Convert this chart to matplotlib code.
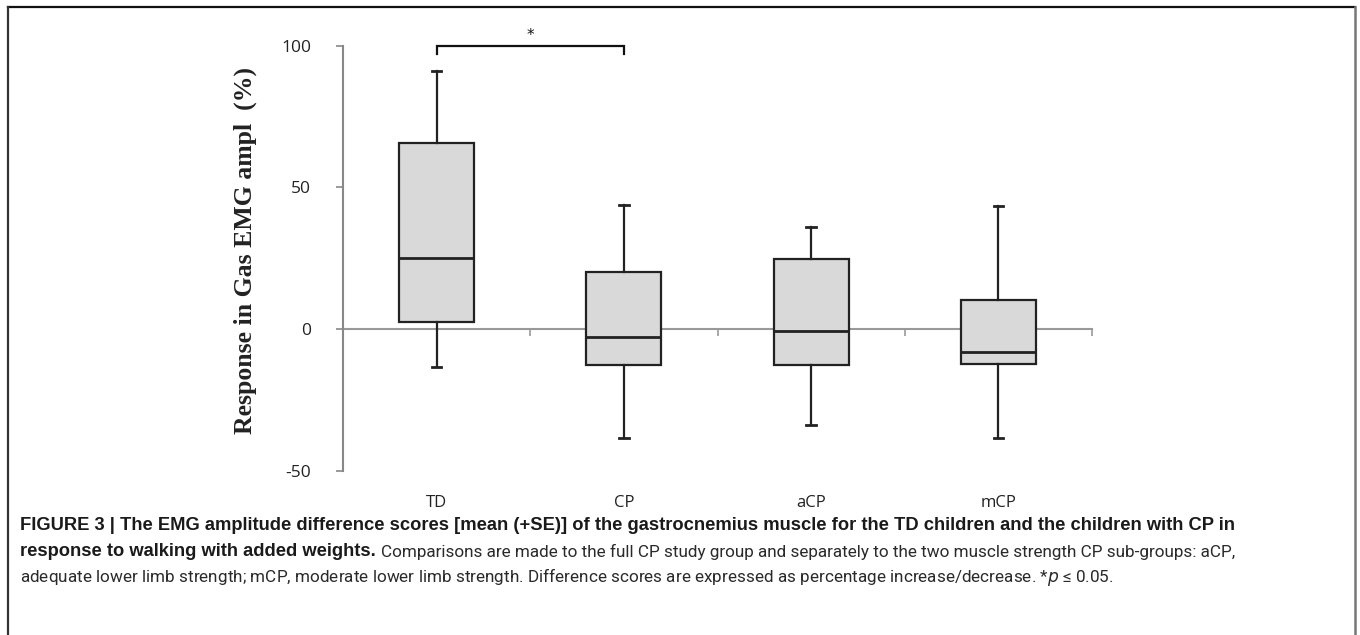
import matplotlib
matplotlib.use("Agg")
import matplotlib.pyplot as plt
from matplotlib.lines import Line2D
import matplotlib.transforms as mtransforms

# ---- data ----
groups = ["TD", "CP", "aCP", "mCP"]
whisker_low = [-13.4, -38.5, -33.9, -38.4]
box_low = [2.4, -12.8, -12.8, -12.3]
medians = [25.2, -3.0, -0.6, -8.2]
box_high = [65.5, 20.2, 24.8, 10.3]
whisker_high = [91.0, 43.6, 35.8, 43.5]
yticks = [-50, 0, 50, 100]
sig_pair = (0, 1)
sig_label = "*"

W, H = 1360, 635
fig = plt.figure(figsize=(W / 100, H / 100), dpi=100)
fig.patch.set_facecolor("white")

ax = fig.add_axes([343 / W, 1 - 470.7 / H, 749 / W, 425.2 / H])
positions = list(range(1, len(groups) + 1))
stats = []
for i, g in enumerate(groups):
    stats.append(dict(label=g, whislo=whisker_low[i], q1=box_low[i], med=medians[i],
                      q3=box_high[i], whishi=whisker_high[i], fliers=[]))
ax.bxp(stats, positions=positions, widths=0.4, patch_artist=True, showfliers=False,
       capwidths=0.05,
       boxprops=dict(facecolor="#d9d9d9", edgecolor="#222222", linewidth=1.6),
       medianprops=dict(color="#222222", linewidth=2.0),
       whiskerprops=dict(color="#222222", linewidth=1.6),
       capprops=dict(color="#222222", linewidth=2.0), zorder=3)

ax.set_xlim(0.5, len(groups) + 0.5)
ax.set_ylim(-50, 100)
ax.set_yticks(yticks)
ax.set_yticklabels([str(v) for v in yticks], fontfamily="Open Sans", fontsize=12.5, color="#222222")
ax.tick_params(axis="y", direction="out", length=5, width=1.2, color="#888888", pad=18)
for s in ["top", "right"]:
    ax.spines[s].set_visible(False)
ax.spines["left"].set_color("#888888")
ax.spines["left"].set_linewidth(1.5)
ax.spines["bottom"].set_position(("data", 0))
ax.spines["bottom"].set_color("#999999")
ax.spines["bottom"].set_linewidth(1.5)
ax.spines["bottom"].set_zorder(2)
ax.set_xticks([p + 0.5 for p in positions])
ax.set_xticklabels([])
ax.tick_params(axis="x", direction="out", length=5, width=1.2, color="#999999")
ax.set_facecolor("none")

# category labels at the bottom
trans = mtransforms.blended_transform_factory(ax.transData, fig.transFigure)
for p, g in zip(positions, groups):
    ax.text(p, 1 - 503 / H, g, transform=trans, ha="center", va="center",
            fontfamily="Open Sans", fontsize=12, color="#222222")

# significance bracket
x1, x2 = positions[sig_pair[0]], positions[sig_pair[1]]
ax.plot([x1, x1, x2, x2], [97, 100, 100, 97], color="#111111", lw=1.6, clip_on=False,
        solid_joinstyle="miter")
ax.text((x1 + x2) / 2, 101, sig_label, ha="center", va="bottom", fontsize=11,
        fontfamily="DejaVu Sans", color="#111111")

# y label
fig.text(245 / W, 1 - 250 / H, "Response in Gas EMG ampl  (%)", rotation=90,
         ha="center", va="center", fontfamily="Liberation Serif", fontweight="bold",
         fontsize=18.5, color="#222222")

# frame
fig.add_artist(Line2D([8 / W, 1355 / W], [1 - 7 / H, 1 - 7 / H], color="#111111", lw=1.6))
fig.add_artist(Line2D([8 / W, 8 / W], [1 - 7 / H, 0], color="#333333", lw=1.6))
fig.add_artist(Line2D([1355 / W, 1355 / W], [1 - 7 / H, 0], color="#777777", lw=1.8))

# caption
bold_font = ["Liberation Sans", "DejaVu Sans"]
reg_font = ["Roboto", "Liberation Sans", "DejaVu Sans"]
x0 = 20 / W
fig.text(x0, 1 - 526 / H,
         "FIGURE 3 | The EMG amplitude difference scores [mean (+SE)] of the gastrocnemius muscle for the TD children and the children with CP in",
         ha="left", va="center", fontfamily=bold_font, fontweight="bold", fontsize=13.2, color="#1a1a1a")
t_bold = fig.text(x0, 1 - 552 / H, "response to walking with added weights.",
                  ha="left", va="center", fontfamily=bold_font, fontweight="bold", fontsize=13.2, color="#1a1a1a")
fig.canvas.draw()
bb = t_bold.get_window_extent()
fig.text(bb.x1 / W + 5 / W, 1 - 552 / H,
         "Comparisons are made to the full CP study group and separately to the two muscle strength CP sub-groups: aCP,",
         ha="left", va="center", fontfamily=reg_font, fontweight="normal", fontsize=12.3, color="#2a2a2a")
fig.text(x0, 1 - 577 / H,
         "adequate lower limb strength; mCP, moderate lower limb strength. Difference scores are expressed as percentage increase/decrease. *$p$ \u2264 0.05.",
         ha="left", va="center", fontfamily=reg_font, fontweight="normal", fontsize=12.3, color="#2a2a2a")

fig.savefig("out.png", dpi=100, facecolor="white")
